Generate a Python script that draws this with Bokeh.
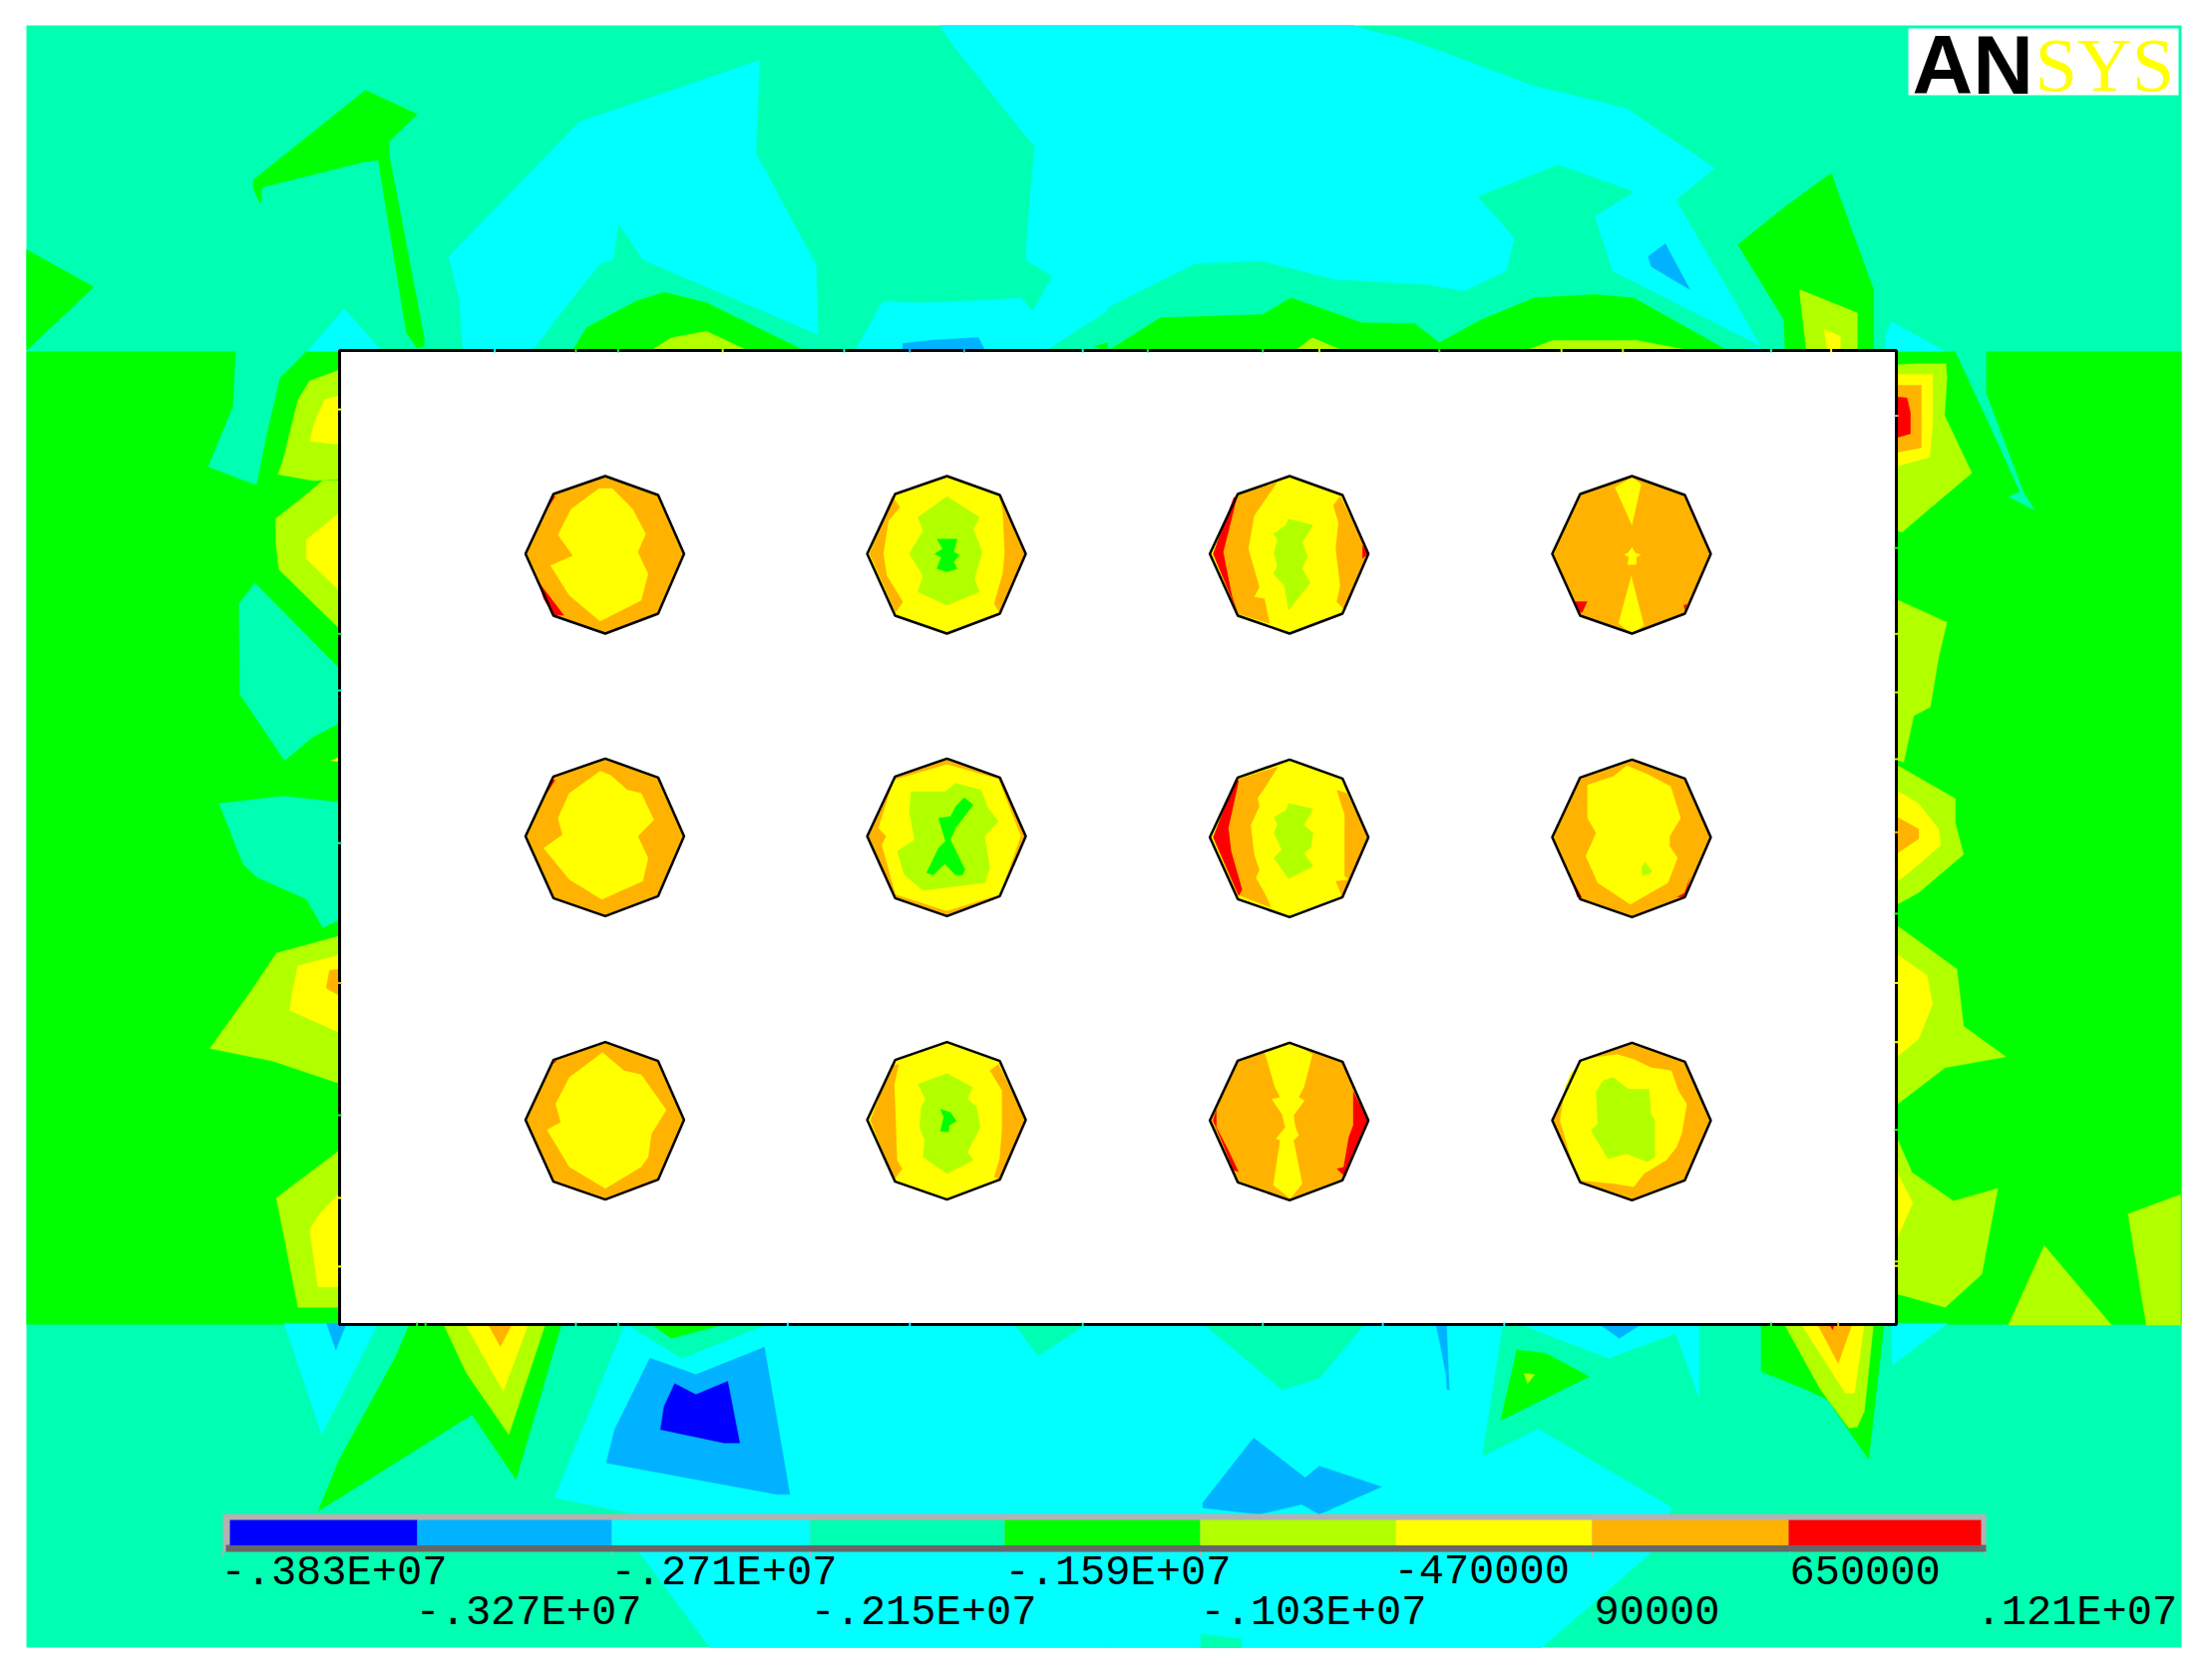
from bokeh.plotting import figure
from bokeh.models import Range1d
from bokeh.core.properties import value
from bokeh.embed import file_html
from bokeh.resources import INLINE

# contour bands, lowest to highest stress
BLUE, AZURE, CYAN, SPRING, GREEN, LIME, YELLOW, ORANGE, RED = (
    "#0000FF", "#00B2FF", "#00FFFF", "#00FFB2", "#00FF00", "#B2FF00", "#FFFF00", "#FFB200", "#FF0000")

# reading frames: origin x, origin y, px per unit x, px per unit y
FRAMES = {
    "TL": (0, 0, 1.4126, 3), "TR": (1110, 0, 1.4126, 3),
    "BL": (0, 1300, 1.4126, 3), "BR": (1110, 1300, 1.4126, 3),
    "LS": (0, 340, 3, 1.568), "RS": (1880, 340, 3, 1.568),
    "HL": (510, 460, 2.904, 3), "HR": (1190, 460, 2.904, 3),
    "ML": (510, 740, 2.904, 3), "MR": (1190, 740, 2.904, 3),
}

FIELD_EXTENT = (26, 2187, 25, 1652)
PLATE = (340, 1901, 351, 1328)

TOP_BANDS = [
    (CYAN, "TL", "1330,75 1568,75 1568,1055 1210,1055 1250,905 1295,910 1370,905 1445,895 1462,935 1490,830 1452,780 1458,600 1465,440 1415,310 1355,150"),
    (CYAN, "TR", "0,75 348,75 370,90 430,120 500,175 600,255 735,325 860,505 805,600 925,1040 925,1055 0,1055"),
    (SPRING, "TR", "638,495 745,575 690,650 715,815 925,1040 880,1055 0,1055 0,925 125,792 220,785 320,840 450,855 505,875 565,815 577,715 525,590"),
    (SPRING, "TL", "1480,1055 1568,935 1568,1055"),
    (CYAN, "TL", "820,365 1075,180 1070,460 1155,795 1158,1005 910,780 875,670 868,780 850,790 790,950 755,1050 655,1050 650,900 635,770"),
    (CYAN, "TL", "487,928 540,1055 435,1055"),
    (GREEN, "TL", "517,270 590,342 550,425 550,460 600,1015 600,1040 590,1045 575,1000 535,480 515,485 440,525 370,562 368,612 358,565 358,540"),
    (GREEN, "TL", "37,750 132,862 37,1052"),
    (GREEN, "TL", "810,1055 830,985 900,905 940,878 1000,910 1140,1055"),
    (LIME, "TL", "920,1055 950,1015 1000,995 1060,1055"),
    (AZURE, "TL", "1278,1055 1278,1032 1320,1022 1385,1014 1395,1055"),
    (AZURE, "TR", "790,732 825,870 770,800 766,770"),
    (GREEN, "TR", "0,1055 75,955 220,945 260,895 360,970 435,972 470,1030 530,960 605,895 690,885 745,895 880,1055"),
    (GREEN, "TL", "1568,1055 1550,1040 1568,1030"),
    (LIME, "TR", "265,1055 290,1015 335,1055"),
    (LIME, "TR", "590,1055 630,1023 750,1023 830,1055"),
    (GREEN, "TR", "1025,520 1085,870 1085,1055 960,1055 958,960 893,735 960,620"),
    (LIME, "TR", "980,870 1062,940 1062,1055 990,1055"),
    (YELLOW, "TR", "1015,990 1038,1010 1038,1055 1020,1055"),
    (CYAN, "TR", "1110,965 1185,1055 1102,1055 1102,1010"),
]

LEFT_BANDS = [
    (SPRING, "LS", "708,18 920,18 880,40 840,60 800,150 770,228 750,225 625,200 700,105"),
    (LIME, "LS", "1020,48 930,65 895,95 850,190 835,212 940,222 1020,220"),
    (YELLOW, "LS", "1020,88 975,95 945,130 930,160 1020,165"),
    (LIME, "LS", "970,222 905,250 828,282 828,320 838,362 1020,455 1020,222"),
    (YELLOW, "LS", "1020,272 920,315 920,345 1020,395"),
    (SPRING, "LS", "765,383 1020,518 1020,603 940,625 855,662 720,558 718,415"),
    (YELLOW, "LS", "995,662 1020,657 1020,664"),
    (SPRING, "LS", "658,730 850,718 1020,728 1020,912 970,925 920,880 770,845 730,825"),
    (LIME, "LS", "1020,938 830,965 760,1020 630,1115 820,1135 1020,1170"),
    (YELLOW, "LS", "1020,968 895,985 880,1020 870,1055 1020,1090"),
    (ORANGE, "LS", "1020,990 990,992 980,1020 1020,1032"),
    (LIME, "LS", "1020,1275 830,1350 895,1522 1020,1522"),
    (YELLOW, "LS", "1020,1342 960,1375 930,1400 955,1490 1020,1490"),
]

RIGHT_BANDS = [
    (SPRING, "RS", "240,18 333,18 333,85 445,240 478,268 400,247 435,240 375,170 300,85"),
    (LIME, "RS", "60,40 130,38 212,38 215,60 208,120 290,210 165,265 80,303 60,300"),
    (YELLOW, "RS", "60,55 172,55 172,130 163,185 60,200"),
    (ORANGE, "RS", "60,72 138,72 138,170 60,178"),
    (RED, "RS", "60,90 95,92 105,115 105,148 60,155"),
    (LIME, "RS", "60,408 215,445 190,500 165,578 115,592 85,665 60,660"),
    (LIME, "RS", "60,668 240,722 240,760 265,810 130,870 60,890"),
    (YELLOW, "RS", "60,708 130,730 190,770 197,795 120,830 60,855"),
    (ORANGE, "RS", "60,750 130,770 130,785 60,810"),
    (LIME, "RS", "60,920 245,990 265,1080 392,1128 210,1145 60,1205"),
    (YELLOW, "RS", "60,965 155,1000 172,1045 130,1100 60,1130"),
    (LIME, "RS", "60,1250 110,1310 235,1355 368,1335 320,1470 210,1522 60,1500"),
    (YELLOW, "RS", "60,1305 112,1358 60,1420"),
    (LIME, "RS", "400,1550 508,1425 710,1550"),
    (LIME, "RS", "760,1375 918,1345 918,1550 815,1550"),
]

BOTTOM_BANDS = [
    (CYAN, "BL", "885,80 785,605 900,655 905,770 1005,1056 1568,1056 1568,80"),
    (CYAN, "BR", "0,80 560,80 530,482 610,398 800,635 770,770 615,1056 0,1056"),
    (CYAN, "BR", "580,80 710,185 805,110 838,305 838,80"),
    (AZURE, "BR", "695,80 725,125 758,80"),
    (AZURE, "BR", "465,80 480,80 484,280 481,280 480,240 472,150"),
    (SPRING, "BL", "885,80 965,185 1090,80"),
    (GREEN, "BL", "920,80 950,125 1030,80"),
    (AZURE, "BL", "920,185 985,235 1082,152 1118,595 1100,595 858,500 870,400"),
    (BLUE, "BL", "955,262 985,295 1030,255 1047,440 1025,440 935,400 940,330"),
    (SPRING, "BL", "1435,80 1470,178 1540,80"),
    (SPRING, "BR", "135,80 247,280 300,245 365,80"),
    (SPRING, "BR", "132,1015 190,1030 190,1056 132,1056"),
    (AZURE, "BR", "207,425 280,545 300,510 388,572 300,655 275,625 215,655 135,635 135,620"),
    (GREEN, "BR", "580,160 620,170 682,240 557,372"),
    (LIME, "BR", "590,230 605,235 595,262"),
    (GREEN, "BR", "926,80 1100,80 1078,490 1020,310 990,280 926,225"),
    (LIME, "BR", "958,80 1085,80 1072,345 1062,392 1050,395 1010,280"),
    (YELLOW, "BR", "982,80 1072,80 1058,290 1045,290"),
    (ORANGE, "BR", "1005,80 1055,80 1035,200"),
    (RED, "BR", "1022,80 1030,80 1027,100"),
    (CYAN, "BR", "1110,80 1190,80 1112,205"),
    (CYAN, "BL", "402,80 535,80 455,415"),
    (AZURE, "BL", "462,80 490,80 475,160"),
    (GREEN, "BL", "580,80 795,80 730,550 668,355 450,645 480,490 560,180"),
    (LIME, "BL", "627,80 772,80 720,415 660,230"),
    (YELLOW, "BL", "658,80 748,80 712,285"),
    (ORANGE, "BL", "690,80 725,80 708,150"),
]

# bolt holes: frame, centre in that frame, base band, inner bands
HOLE_SHAPE = [(0, -78), (53, -59), (79, 0), (53, 60), (0, 80), (-52, 62), (-80, 0), (-52, -60)]

HOLES = [
    ("HL", 280, 285, ORANGE, [
        (YELLOW, "262,88 300,88 360,150 398,225 375,280 405,345 385,425 265,488 175,410 120,320 185,290 142,228 180,150"),
        (RED, "125,110 135,112 108,155"),
        (RED, "85,368 160,470 130,470 100,420"),
    ]),
    ("HL", 1275, 285, YELLOW, [
        (ORANGE, "1115,110 1138,145 1105,185 1090,285 1100,350 1147,430 1125,462 1050,285"),
        (ORANGE, "1425,105 1437,155 1443,280 1437,345 1412,435 1430,465 1505,280"),
        (LIME, "1275,112 1370,175 1352,210 1378,280 1355,360 1370,400 1275,440 1190,400 1205,350 1165,285 1205,215 1190,175"),
        (GREEN, "1245,240 1305,240 1295,280 1312,288 1295,310 1305,330 1275,340 1245,330 1258,295 1238,285 1262,270"),
    ]),
    ("HR", 298, 285, YELLOW, [
        (ORANGE, "140,110 262,70 195,170 178,270 210,385 195,415 225,420 240,495 145,465 75,285"),
        (ORANGE, "445,110 425,140 440,190 432,270 445,380 435,430 460,455 527,285"),
        (RED, "135,115 145,115 105,280 130,410 148,465 75,285"),
        (RED, "510,258 527,285 510,300"),
        (LIME, "295,180 367,198 335,250 350,290 335,330 358,372 295,455 282,380 250,345 262,320 252,285 262,240 250,225 285,200"),
    ]),
    ("HR", 1295, 285, ORANGE, [
        (YELLOW, "1245,85 1295,55 1322,75 1295,200"),
        (YELLOW, "1293,350 1330,500 1295,525 1255,495"),
        (YELLOW, "1295,265 1305,282 1322,288 1308,295 1308,318 1282,318 1285,295 1272,288 1285,280"),
        (RED, "1128,428 1165,428 1150,462 1138,462"),
        (RED, "1445,440 1455,435 1450,455"),
    ]),
    ("ML", 280, 295, ORANGE, [
        (YELLOW, "265,98 295,110 345,155 385,165 422,245 375,295 405,360 390,430 270,485 175,425 100,330 155,290 142,240 175,165"),
        (RED, "120,125 135,125 110,165"),
    ]),
    ("ML", 1275, 295, ORANGE, [
        (YELLOW, "1275,78 1425,122 1490,295 1430,470 1275,520 1125,470 1085,320 1098,295 1075,270 1120,125"),
        (LIME, "1170,160 1270,160 1300,135 1375,155 1395,210 1425,250 1385,295 1400,390 1385,435 1270,450 1205,458 1150,410 1130,340 1180,305 1165,220"),
        (GREEN, "1325,178 1352,200 1300,270 1285,305 1328,395 1320,412 1300,412 1268,378 1235,412 1215,405 1250,330 1270,310 1250,240 1285,235 1300,205"),
    ]),
    ("MR", 298, 298, YELLOW, [
        (ORANGE, "140,125 265,85 225,150 205,180 210,205 185,262 195,350 210,395 200,420 225,465 245,510 145,470 75,298"),
        (ORANGE, "435,155 465,165 527,298 450,475 432,430 470,425 458,415 458,230"),
        (RED, "140,125 150,128 120,270 128,340 160,455 150,475 75,298"),
        (LIME, "295,195 367,212 340,262 367,285 360,330 340,345 367,385 295,423 252,360 275,335 252,285 262,258 252,238 288,215"),
    ]),
    ("MR", 1295, 298, ORANGE, [
        (YELLOW, "1280,82 1345,110 1408,145 1437,240 1405,295 1405,325 1428,360 1400,435 1290,500 1195,435 1160,355 1190,285 1165,240 1165,140 1240,115"),
        (LIME, "1332,372 1355,402 1325,415 1322,390"),
        (RED, "1118,420 1150,480 1135,478"),
        (RED, "1465,415 1450,478 1425,478 1448,465"),
    ]),
    ("ML", 280, 1148, ORANGE, [
        (YELLOW, "272,945 335,1000 385,1012 458,1118 415,1190 405,1260 385,1290 280,1355 175,1290 110,1178 150,1155 135,1100 175,1020"),
        (RED, "122,982 140,965 135,975"),
    ]),
    ("ML", 1275, 1148, YELLOW, [
        (ORANGE, "1112,985 1135,980 1122,1040 1130,1270 1145,1295 1120,1330 1052,1150"),
        (ORANGE, "1425,980 1505,1148 1430,1330 1412,1320 1428,1265 1435,1180 1435,1060 1400,1000"),
        (LIME, "1275,1008 1350,1050 1335,1085 1362,1110 1372,1170 1335,1245 1352,1270 1275,1310 1205,1260 1210,1210 1195,1170 1200,1110 1212,1085 1190,1040"),
        (GREEN, "1255,1115 1285,1125 1303,1152 1282,1165 1280,1185 1255,1183 1265,1140"),
    ]),
    ("MR", 298, 1150, ORANGE, [
        (YELLOW, "225,945 295,912 365,950 340,1050 325,1080 342,1090 310,1135 315,1170 325,1195 310,1210 335,1340 300,1385 250,1345 270,1210 258,1205 285,1170 275,1130 245,1085 270,1080 255,1050"),
        (RED, "483,1062 527,1150 460,1320 435,1295 455,1290 470,1200 483,1165"),
        (RED, "75,1150 85,1115 85,1170 120,1240 150,1305 135,1300"),
    ]),
    ("MR", 1295, 1150, ORANGE, [
        (YELLOW, "1155,965 1250,950 1300,965 1350,990 1410,1000 1430,1060 1455,1100 1440,1190 1425,1230 1395,1270 1330,1310 1300,1350 1240,1340 1140,1330 1110,1240 1085,1150 1100,1050 1115,1010"),
        (LIME, "1240,1020 1285,1055 1345,1055 1350,1130 1362,1150 1362,1260 1340,1275 1280,1250 1225,1265 1175,1180 1195,1160 1190,1065 1210,1030"),
    ]),
]

# node marks on the plate border: position along the edge and its band
NODES_TOP = [("TL", 700, CYAN), ("TL", 815, GREEN), ("TL", 875, GREEN), ("TL", 1023, LIME), ("TL", 1195, SPRING),
             ("TL", 1288, AZURE), ("TL", 1365, AZURE), ("TL", 1533, SPRING), ("TR", 57, GREEN), ("TR", 220, GREEN),
             ("TR", 300, LIME), ("TR", 470, GREEN), ("TR", 643, LIME), ("TR", 730, LIME), ("TR", 940, SPRING), ("TR", 1025, YELLOW)]
NODES_BOTTOM = [("BL", 590, GREEN), ("BL", 602, GREEN), ("BL", 815, SPRING), ("BL", 875, SPRING), ("BL", 1115, CYAN),
                ("BL", 1288, CYAN), ("BL", 1533, SPRING), ("BR", 220, SPRING), ("BR", 390, CYAN), ("BR", 562, CYAN),
                ("BR", 940, GREEN), ("BR", 1035, ORANGE)]
NODES_LEFT = [(110, YELLOW), (463, GREEN), (552, SPRING), (792, SPRING), (1012, ORANGE), (1220, GREEN), (1350, YELLOW), (1458, YELLOW)]
NODES_RIGHT = [(120, "#B2B2B2"), (328, GREEN), (463, LIME), (555, LIME), (660, LIME), (775, ORANGE), (903, GREEN),
               (1012, YELLOW), (1105, YELLOW), (1243, GREEN), (1450, LIME), (1457, YELLOW)]

# colour bar
BAR_COLORS = [BLUE, AZURE, CYAN, SPRING, GREEN, LIME, YELLOW, ORANGE, RED]
BAR_EDGES = [230, 418, 613, 812, 1007, 1203, 1399, 1596, 1793, 1986]
BAR_TICKS = [223, 418, 613, 812, 1008, 1203, 1399, 1596, 1794, 1990]
BAR_LABELS = ["-.383E+07", "-.327E+07", "-.271E+07", "-.215E+07", "-.159E+07",
              "-.103E+07", "-470000", "90000", "650000", ".121E+07"]
LABEL_X = [221, 416, 612, 812, 1007, 1203, 1397, 1598, 1794, 1981]
LABEL_Y = [1577, 1617, 1577, 1617, 1577, 1617, 1573, 1614, 1574, 1617]


def to_px(frame, text):
    ox, oy, sx, sy = FRAMES[frame]
    pts = [tuple(float(v) for v in s.split(",")) for s in text.split()]
    return [ox + a / sx for a, b in pts], [oy + b / sy for a, b in pts]


p = figure(width=2202, height=1663, output_backend="svg", toolbar_location=None,
           x_range=Range1d(0, 2202), y_range=Range1d(1663, 0),
           min_border=0, outline_line_color=None, background_fill_color="white",
           border_fill_color="white")
p.xaxis.visible = False
p.yaxis.visible = False
p.grid.visible = False

x0, x1, y0, y1 = FIELD_EXTENT
px0, px1, py0, py1 = PLATE
p.quad(left=[x0], right=[x1], top=[y0], bottom=[y1], color=SPRING, line_color=None)
p.quad(left=[x0, px1], right=[px0, x1], top=[352, 352], bottom=[1328, 1328], color=GREEN, line_color=None)


def draw(bands):
    for color, frame, text in bands:
        xs, ys = to_px(frame, text)
        p.patch(xs, ys, fill_color=color, line_color=color, line_width=0.5)


draw(TOP_BANDS)
draw(BOTTOM_BANDS)
draw(LEFT_BANDS)
draw(RIGHT_BANDS)

# plate
p.quad(left=[px0], right=[px1], top=[py0], bottom=[py1], fill_color="white",
       line_color="black", line_width=3)

nx = [FRAMES[f][0] + a / FRAMES[f][2] for f, a, c in NODES_TOP]
p.segment(x0=nx, x1=nx, y0=[349] * len(nx), y1=[353] * len(nx), line_color=[c for f, a, c in NODES_TOP], line_width=2)
nx = [FRAMES[f][0] + a / FRAMES[f][2] for f, a, c in NODES_BOTTOM]
p.segment(x0=nx, x1=nx, y0=[1326] * len(nx), y1=[1330] * len(nx), line_color=[c for f, a, c in NODES_BOTTOM], line_width=2)
ny = [FRAMES["LS"][1] + a / FRAMES["LS"][3] for a, c in NODES_LEFT]
p.segment(x0=[338] * len(ny), x1=[342] * len(ny), y0=ny, y1=ny, line_color=[c for a, c in NODES_LEFT], line_width=2)
ny = [FRAMES["RS"][1] + a / FRAMES["RS"][3] for a, c in NODES_RIGHT]
p.segment(x0=[1899] * len(ny), x1=[1903] * len(ny), y0=ny, y1=ny, line_color=[c for a, c in NODES_RIGHT], line_width=2)

for frame, cx, cy, base, inner in HOLES:
    ox, oy, sx, sy = FRAMES[frame]
    hx = [ox + cx / sx + dx for dx, dy in HOLE_SHAPE]
    hy = [oy + cy / sy + dy for dx, dy in HOLE_SHAPE]
    p.patch(hx, hy, fill_color=base, line_color=None)
    for color, text in inner:
        xs, ys = to_px(frame, text)
        p.patch(xs, ys, fill_color=color, line_color=None)
    p.patch(hx, hy, fill_color=None, line_color="black", line_width=2.5)

# colour bar frame, cells, ticks, labels
p.quad(left=[223], right=[1991], top=[1518], bottom=[1556], fill_color="#B2B2B2", line_color=None)
p.quad(left=[226], right=[1991], top=[1549], bottom=[1556], fill_color="#666666", line_color=None)
p.quad(left=BAR_EDGES[:-1], right=BAR_EDGES[1:], top=[1524] * 9, bottom=[1549.5] * 9,
       fill_color=BAR_COLORS, line_color=None)
p.segment(x0=BAR_TICKS, x1=BAR_TICKS, y0=[1556] * 10, y1=[1561] * 10, line_color="#C8A8A8", line_width=1)
p.text(x=LABEL_X, y=LABEL_Y, text=BAR_LABELS, text_font=value("Liberation Mono"),
       text_font_size="42px", text_color="black", text_align="left", text_baseline="middle")

# logo
p.quad(left=[1913], right=[2184], top=[28], bottom=[95], fill_color="white", line_color=None)
p.text(x=[1917], y=[64], text=["AN"], text_font=value("Liberation Sans"), text_font_style="bold",
       text_font_size="84px", text_color="black", text_align="left", text_baseline="middle")
p.text(x=[2040], y=[64], text=["SYS"], text_font=value("Liberation Serif"),
       text_font_size="76px", text_color="#FFFF00", text_align="left", text_baseline="middle")

open("out.html", "w").write(file_html(p, INLINE))
